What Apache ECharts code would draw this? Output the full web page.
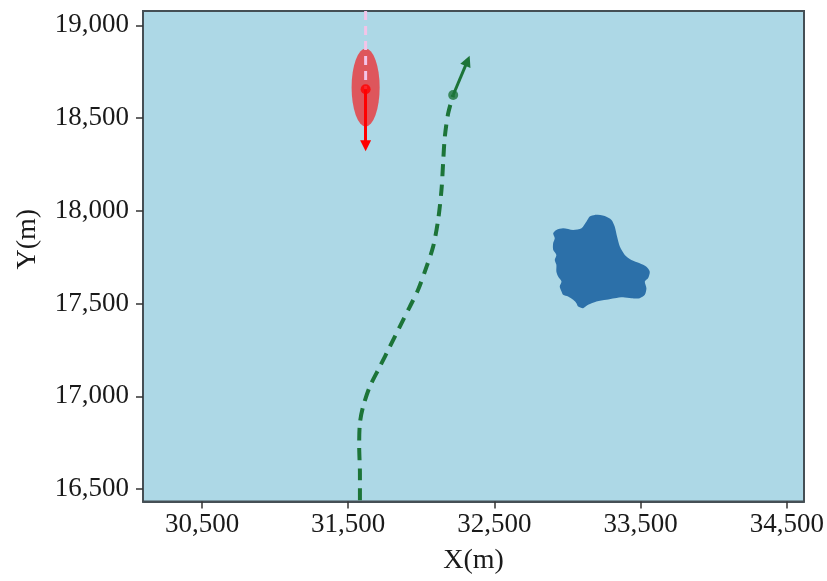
<!DOCTYPE html>
<html>
<head>
<meta charset="utf-8">
<script src="https://cdn.jsdelivr.net/npm/echarts@6/dist/echarts.min.js"></script>
<style>
html,body{margin:0;padding:0;background:#fff;}
#chart{width:827px;height:581px;}
</style>
</head>
<body>
<div id="chart"></div>
<script>
// Axis ranges and tick labels
const xRange = [30096, 34618];
const yRange = [16433, 19077];
const xTicks = [30500, 31500, 32500, 33500, 34500];
const yTicks = [16500, 17000, 17500, 18000, 18500, 19000];

// Green track (dashed), bottom to top
const trackX = [31580, 31580, 31575, 31580, 31602, 31648, 31717, 31785, 31853, 31922, 31978, 32036, 32081, 32115, 32138, 32149, 32161, 32184, 32218];
const trackY = [16440, 16586, 16730, 16856, 16945, 17053, 17161, 17268, 17376, 17484, 17574, 17699, 17807, 17951, 18113, 18256, 18400, 18526, 18624];
// Green heading arrow (from current position)
const greenArrowFrom = [32218, 18624];
const greenArrowTo = [32316, 18808];

// Red target: uncertainty ellipse, position, heading arrow, past track
const redCenter = [31619, 18665];
const redRadii = [96, 210];
const redPos = [31619, 18655];
const redArrowTo = [31619, 18350];
const pinkTrackX = [31619, 31619];
const pinkTrackY = [19077, 18655];

// Blue obstacle outline
const blobX = [33187,33255,33301,33323,33339,33358,33392,33437,33494,33540,33563,33551,33529,33540,33529,33494,33437,33380,33323,33266,33198,33141,33107,33073,33061,33039,33004,32970,32959,32947,32959,32936,32924,32924,32913,32924,32902,32902,32913,32902,32924,32970,33039,33096,33130,33152];
const blobY = [17978,17972,17951,17915,17861,17807,17762,17735,17717,17699,17672,17636,17619,17583,17547,17529,17529,17534,17529,17520,17511,17493,17475,17484,17502,17520,17538,17547,17565,17592,17619,17646,17672,17709,17735,17762,17790,17826,17852,17879,17897,17906,17897,17906,17942,17969];

const GREEN = '#1c7438';
const FONT = "'Liberation Serif', 'Times New Roman', serif";
const fmt = v => Number(v).toLocaleString('en-US');

const chart = echarts.init(document.getElementById('chart'), null, {renderer: 'canvas'});

const axisCommon = {
  type: 'value',
  splitLine: {show: false},
  axisLine: {show: true, onZero: false, lineStyle: {color: '#454f55', width: 2}},
  axisTick: {show: true, length: 7, lineStyle: {color: '#333', width: 1.5}},
  nameTextStyle: {fontFamily: FONT, fontSize: 28, color: '#1a1a1a'}
};

chart.setOption({
  animation: false,
  backgroundColor: '#ffffff',
  grid: {
    left: 143, top: 11, right: 23, bottom: 79.5,
    show: true, backgroundColor: '#add8e6',
    borderColor: '#454f55', borderWidth: 2
  },
  xAxis: Object.assign({}, axisCommon, {
    min: xRange[0], max: xRange[1],
    name: 'X(m)', nameLocation: 'middle', nameGap: 45,
    axisTick: Object.assign({}, axisCommon.axisTick, {customValues: xTicks}),
    axisLabel: {customValues: xTicks, formatter: fmt, fontFamily: FONT, fontSize: 27, color: '#1a1a1a', margin: 10}
  }),
  yAxis: Object.assign({}, axisCommon, {
    min: yRange[0], max: yRange[1],
    name: 'Y(m)', nameLocation: 'middle', nameGap: 101, nameRotate: 90,
    nameTextStyle: {fontFamily: FONT, fontSize: 28, color: '#1a1a1a', padding: [0, 0, 0, 34]},
    axisTick: Object.assign({}, axisCommon.axisTick, {customValues: yTicks}),
    axisLabel: {customValues: yTicks, formatter: fmt, fontFamily: FONT, fontSize: 27, color: '#1a1a1a', margin: 14}
  }),
  series: [
    {
      type: 'custom',
      name: 'obstacle',
      z: 2,
      data: [0],
      renderItem: function (params, api) {
        const pts = blobX.map((x, i) => api.coord([x, blobY[i]]));
        return {type: 'polygon', shape: {points: pts, smooth: 0.25}, style: {fill: '#2c70a9'}};
      }
    },
    {
      type: 'custom',
      name: 'ellipse',
      z: 3,
      data: [0],
      renderItem: function (params, api) {
        const c = api.coord(redCenter);
        const s = api.size(redRadii);
        return {type: 'circle', shape: {cx: 0, cy: 0, r: 1}, x: c[0], y: c[1], scaleX: s[0], scaleY: s[1],
          style: {fill: 'rgba(255,0,0,0.6)'}};
      }
    },
    {
      type: 'line',
      name: 'pink',
      z: 4,
      data: pinkTrackX.map((x, i) => [x, pinkTrackY[i]]),
      showSymbol: false, symbol: 'none',
      lineStyle: {color: '#f4c4e8', width: 3, type: [9, 6]}
    },
    {
      type: 'line',
      name: 'track',
      z: 4,
      data: trackX.map((x, i) => [x, trackY[i]]),
      smooth: 0.3,
      showSymbol: false, symbol: 'none',
      lineStyle: {color: GREEN, width: 4, type: [12, 8]}
    },
    {
      type: 'lines',
      coordinateSystem: 'cartesian2d',
      z: 5,
      symbol: ['none', 'triangle'],
      symbolSize: [15, 11],
      data: [
        {coords: [redPos, redArrowTo], lineStyle: {color: '#ff0000', width: 3}},
        {coords: [greenArrowFrom, greenArrowTo], lineStyle: {color: GREEN, width: 3}}
      ],
      lineStyle: {opacity: 1}
    },
    {
      type: 'scatter',
      z: 6,
      symbolSize: 10,
      data: [
        {value: redPos, itemStyle: {color: '#ff0000'}},
        {value: greenArrowFrom, itemStyle: {color: GREEN}}
      ]
    }
  ]
});
</script>
</body>
</html>
